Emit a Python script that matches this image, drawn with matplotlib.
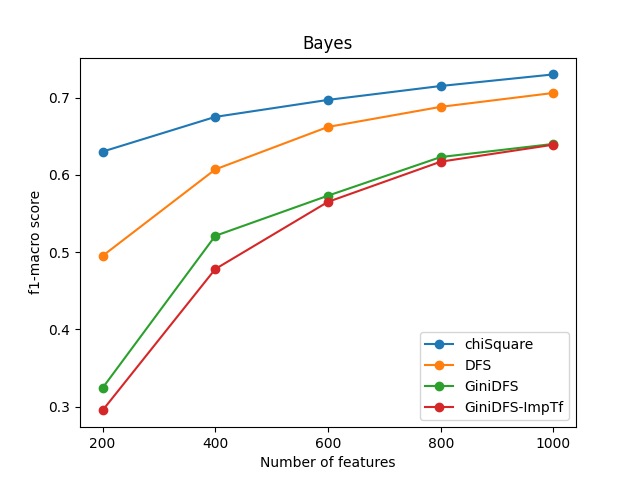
import matplotlib
matplotlib.use("Agg")
import matplotlib.pyplot as plt

features = [200, 400, 600, 800, 1000]
chiSquare = [0.630, 0.675, 0.697, 0.715, 0.730]
DFS = [0.495, 0.607, 0.662, 0.688, 0.706]
GiniDFS = [0.324, 0.521, 0.573, 0.623, 0.640]
GiniDFS_ImpTf = [0.295, 0.478, 0.565, 0.617, 0.639]

fig, ax = plt.subplots(figsize=(6.4, 4.8), dpi=100)
ax.plot(features, chiSquare, marker='o', label='chiSquare')
ax.plot(features, DFS, marker='o', label='DFS')
ax.plot(features, GiniDFS, marker='o', label='GiniDFS')
ax.plot(features, GiniDFS_ImpTf, marker='o', label='GiniDFS-ImpTf')
ax.set_title('Bayes')
ax.set_xlabel('Number of features')
ax.set_ylabel('f1-macro score')
ax.set_xticks(features)
ax.legend(loc='lower right')
fig.savefig('out.png')
